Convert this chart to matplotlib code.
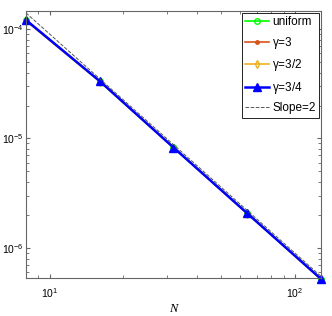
import numpy as np
import matplotlib
matplotlib.use('Agg')
import matplotlib.pyplot as plt

# --- data ---
N = [8, 16, 32, 64, 128]
err_uniform = [1.20e-4, 3.33e-5, 8.30e-6, 2.08e-6, 5.20e-7]
err_g3 = [1.21e-4, 3.34e-5, 8.28e-6, 2.07e-6, 5.18e-7]
err_g32 = [1.19e-4, 3.31e-5, 8.22e-6, 2.06e-6, 5.15e-7]
err_g34 = [1.21e-4, 3.35e-5, 8.27e-6, 2.07e-6, 5.20e-7]
slope_N = [8, 128]
slope_C = 9.0e-3  # reference line C * N^-2

plt.rcParams['font.family'] = ['Liberation Sans', 'DejaVu Sans']
plt.rcParams['mathtext.default'] = 'regular'

fig = plt.figure(figsize=(3.32, 3.16), dpi=100)
ax = fig.add_axes([0.078, 0.120, 0.889, 0.845])

kw = dict(clip_on=False)
ax.loglog(N, err_uniform, '-o', color='#00ff00', lw=1.2, ms=4, mfc='none', label='uniform', **kw)
ax.loglog(N, err_g3, '-o', color='#D95319', lw=1.2, ms=2.5, label=r'$\gamma$=3', **kw)
ax.loglog(N, err_g32, '-d', color='#EDB120', lw=1.2, ms=4, mfc='none', label=r'$\gamma$=3/2', **kw)
ax.loglog(N, err_g34, '-^', color='#0000ff', lw=1.8, ms=6, label=r'$\gamma$=3/4', **kw)
ax.loglog(slope_N, [slope_C * n**-2 for n in slope_N], '--', color='#555555', lw=0.7, label='Slope=2')

ax.set_xlim(8, 128)
ax.set_ylim(5.3e-7, 1.46e-4)
ax.set_xlabel('N', family='Liberation Serif', style='italic', fontsize=9, labelpad=2)

ax.tick_params(which='both', direction='in', top=True, right=True, labelsize=7.5, color='#666666')
ax.tick_params(which='major', length=3)
ax.tick_params(which='minor', length=2)
ax.tick_params(axis='y', pad=1.5)
ax.tick_params(axis='x', pad=6)
for s in ax.spines.values():
    s.set_color('#666666')
    s.set_linewidth(0.8)

leg = ax.legend(loc='upper right', fontsize=8.5, fancybox=False, framealpha=1,
                edgecolor='black', handlelength=2.0, borderaxespad=0.15,
                labelspacing=0.55, handletextpad=0.3, borderpad=0.3)
leg.get_frame().set_linewidth(0.6)

fig.savefig('out.png', dpi=100)
